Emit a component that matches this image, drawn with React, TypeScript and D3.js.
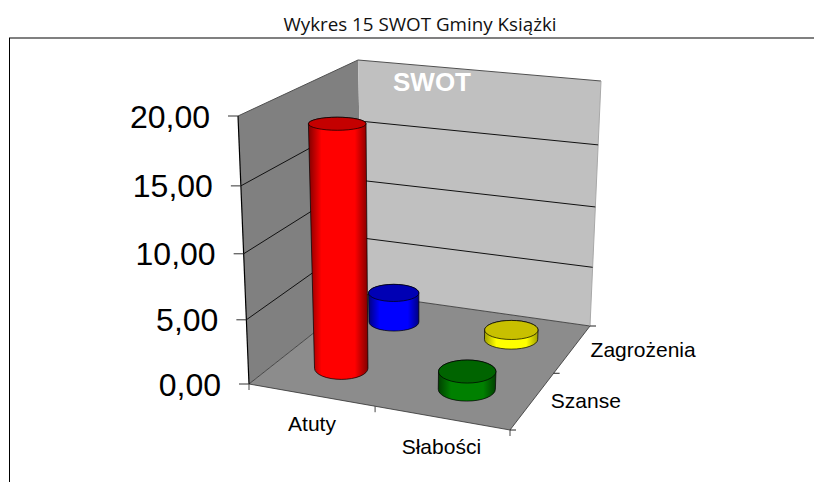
import React from "react";
import * as d3 from "d3";

const categories = ["Atuty", "Słabości"];
const depthCategories = ["Szanse", "Zagrożenia"];
const seriesName = "SWOT";
const title = "Wykres 15 SWOT Gminy Książki";
const cellCategories = ["Atuty", "Atuty", "Słabości", "Słabości"];
const cellDepths = ["Zagrożenia", "Szanse", "Zagrożenia", "Szanse"];
const cellValues = [2.5, 18.8, 0.8, 1.4]; // drawn back to front
const cellColors = [
  { side: "#0000ff", edge: "#000080", top: "#0000b4" },
  { side: "#ff0000", edge: "#800000", top: "#c40000" },
  { side: "#ffff00", edge: "#a0a000", top: "#c8c000" },
  { side: "#008000", edge: "#004000", top: "#006400" },
];
const yTicks = [0, 5, 10, 15, 20];

type Corner = [number, number, number];
// corners of the plot box in the picture: [screen x, screen y, perspective weight]
const floorFL: Corner = [249, 384, 1.07];
const floorFR: Corner = [510, 430, 1];
const floorBL: Corner = [363, 294, 1.28];
const floorBR: Corner = [590, 326, 1.2];
const topShrink = 0.945;
const topFL: Corner = [238, 116, 1.07 * topShrink];
const topFR: Corner = [522, 150, 1 * topShrink];
const topBL: Corner = [358, 60, 1.28 * topShrink];
const topBR: Corner = [601, 81, 1.2 * topShrink];

const xBand = d3.scaleBand().domain(categories).range([0, 1]);
const zBand = d3.scaleBand().domain(depthCategories).range([0, 1]);
const yFrac = d3.scaleLinear().domain([0, 20]).range([0, 1]);

function project(u: number, v: number, t: number): [number, number] {
  const weights: [Corner, number][] = [
    [floorFL, (1 - u) * (1 - v) * (1 - t)],
    [floorFR, u * (1 - v) * (1 - t)],
    [floorBL, (1 - u) * v * (1 - t)],
    [floorBR, u * v * (1 - t)],
    [topFL, (1 - u) * (1 - v) * t],
    [topFR, u * (1 - v) * t],
    [topBL, (1 - u) * v * t],
    [topBR, u * v * t],
  ];
  let sx = 0, sy = 0, sw = 0;
  for (const [c, k] of weights) {
    sx += c[0] * c[2] * k;
    sy += c[1] * c[2] * k;
    sw += c[2] * k;
  }
  return [sx / sw, sy / sw];
}

const poly = (pts: [number, number][]) => d3.line()(pts) + "Z";
const RADIUS = 0.11;

function Cylinder({ i }: { i: number }) {
  const u = xBand(cellCategories[i])! + xBand.bandwidth() / 2;
  const v = zBand(cellDepths[i])! + zBand.bandwidth() / 2;
  const t = yFrac(cellValues[i]);
  const [bx, by] = project(u, v, 0);
  const [tx, ty] = project(u, v, t);
  const widthAt = (h: number) =>
    Math.abs(project(u + RADIUS, v, h)[0] - project(u - RADIUS, v, h)[0]) / 2;
  const brx = widthAt(0), trx = widthAt(t);
  const bry = brx * (0.44 - 0.1 * v);
  const tryy = trx * (0.44 - 0.1 * v - 0.2 * t);
  const side = `M${bx - brx},${by} A${brx},${bry} 0 0 0 ${bx + brx},${by} L${tx + trx},${ty} A${trx},${tryy} 0 0 0 ${tx - trx},${ty} Z`;
  const c = cellColors[i];
  return (
    <g>
      <defs>
        <linearGradient id={`cyl${i}`} x1="0" x2="1" y1="0" y2="0">
          <stop offset="0" stopColor={c.edge} />
          <stop offset="0.22" stopColor={c.side} />
          <stop offset="0.78" stopColor={c.side} />
          <stop offset="1" stopColor={c.edge} />
        </linearGradient>
      </defs>
      <path d={side} fill={`url(#cyl${i})`} stroke="#000" strokeWidth={0.7} />
      <ellipse cx={tx} cy={ty} rx={trx} ry={tryy} fill={c.top} stroke="#000" strokeWidth={0.7} />
    </g>
  );
}

export default function App() {
  const sans = "'Liberation Sans', Arial, sans-serif";
  const xTickFractions = [0, 0.5, 1];
  return (
    <svg width={814} height={482} style={{ position: "absolute", left: 0, top: 0, background: "#fff" }}>
      <text x={420} y={31} textAnchor="middle" fontFamily="'Open Sans', sans-serif" fontSize={18.8} fill="#111">{title}</text>
      <line x1={9} x2={814} y1={38} y2={38} stroke="#808080" strokeWidth={2} />
      <line x1={9.5} x2={9.5} y1={38} y2={482} stroke="#000" />

      {/* walls and floor */}
      <path d={poly([project(0, 0, 0), project(0, 1, 0), project(0, 1, 1), project(0, 0, 1)])} fill="#808080" />
      <path d={poly([project(0, 1, 0), project(1, 1, 0), project(1, 1, 1), project(0, 1, 1)])} fill="#c0c0c0" />
      <path d={poly([project(0, 0, 0), project(1, 0, 0), project(1, 1, 0), project(0, 1, 0)])} fill="#8c8c8c" stroke="#303030" strokeWidth={0.8} />
      <path d={d3.line()([project(0, 0, 1), project(0, 1, 1), project(1, 1, 1)])!} fill="none" stroke="#505050" strokeWidth={1} />
      <path d={d3.line()([project(1, 1, 0), project(1, 1, 1)])!} fill="none" stroke="#a8a8a8" strokeWidth={1} />
      <path d={d3.line()([project(0, 0, 0), project(0, 0, 1)])!} fill="none" stroke="#000" strokeWidth={1.2} />

      {/* gridlines */}
      {yTicks.slice(1, 4).map((tv) => {
        const t = yFrac(tv);
        return (
          <path key={tv} d={d3.line()([project(0, 0, t), project(0, 1, t), project(1, 1, t)])!} fill="none" stroke="#111" strokeWidth={1} />
        );
      })}

      {/* value axis */}
      {yTicks.map((tv) => {
        const [x, y] = project(0, 0, yFrac(tv));
        return (
          <g key={tv}>
            <line x1={x - 10} x2={x} y1={y} y2={y} stroke="#333" />
            <text x={x - 28} y={y + 11.5} textAnchor="end" fontFamily={sans} fontSize={32} fill="#000">
              {d3.format(".2f")(tv).replace(".", ",")}
            </text>
          </g>
        );
      })}

      {/* ticks on floor */}
      {xTickFractions.map((f) => {
        const [x, y] = project(f, 0, 0);
        return <line key={f} x1={x} x2={x} y1={y} y2={y + 6} stroke="#444" />;
      })}
      {xTickFractions.map((f) => {
        const [x, y] = project(1, f, 0);
        return <line key={f} x1={x} x2={x + 6} y1={y} y2={y} stroke="#222" />;
      })}

      {/* category labels */}
      {categories.map((c) => {
        const [x, y] = project(xBand(c)! + xBand.bandwidth() / 2, 0, 0);
        return (
          <text key={c} x={x + (c === "Atuty" ? 1 : 0)} y={y + 36} textAnchor="middle" fontFamily={sans} fontSize={21} fill="#000">{c}</text>
        );
      })}
      {depthCategories.map((c) => {
        const [x, y] = project(1, zBand(c)! + zBand.bandwidth() / 2, 0);
        return (
          <text key={c} x={x + 18} y={y + 8} textAnchor="start" fontFamily={sans} fontSize={21} fill="#000">{c}</text>
        );
      })}

      {cellValues.map((_, i) => (
        <Cylinder key={i} i={i} />
      ))}

      <text x={432} y={91} textAnchor="middle" fontFamily={sans} fontWeight="bold" fontSize={26} fill="#fff">{seriesName}</text>
    </svg>
  );
}
